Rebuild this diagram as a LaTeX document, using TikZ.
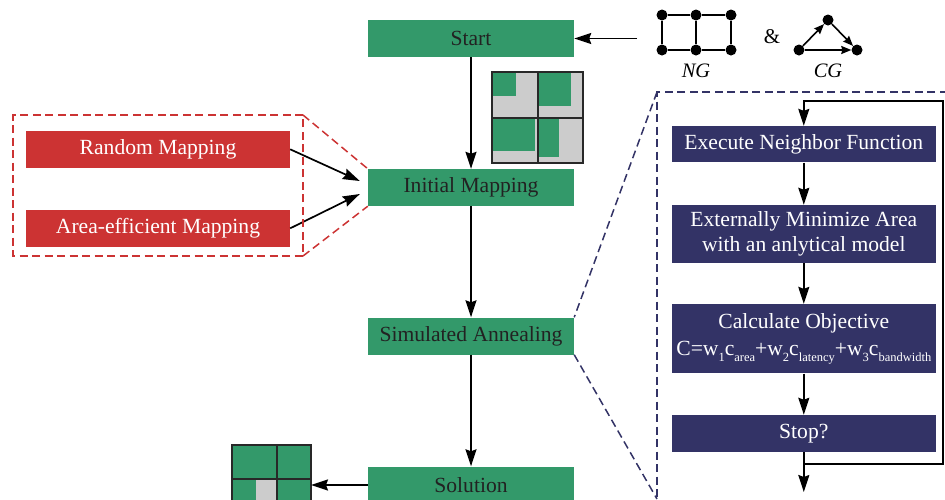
\documentclass[tikz,border=0pt]{standalone}
\usepackage{fontspec}
\setmainfont{Liberation Serif}
\usetikzlibrary{arrows.meta,calc}
\definecolor{sgreen}{RGB}{51,153,106}
\definecolor{sred}{RGB}{204,51,51}
\definecolor{snavy}{RGB}{51,51,102}
\definecolor{sgray}{RGB}{204,204,204}
\definecolor{stext}{RGB}{34,34,34}
\definecolor{sgrid}{RGB}{40,40,40}
\newcommand{\sbt}[1]{\raisebox{-0.55ex}{\fontsize{12.5}{12.5}\selectfont #1}}
\begin{document}
\begin{tikzpicture}[x=1pt,y=-1pt,
  font=\fontsize{21.6}{25.6}\selectfont,
  gbox/.style={fill=sgreen, text=stext, minimum width=206pt, minimum height=37pt, inner sep=0pt},
  rbox/.style={fill=sred, text=white, minimum width=264pt, minimum height=37pt, inner sep=0pt},
  bbox/.style={fill=snavy, text=white, minimum width=264pt, inner sep=0pt, align=center},
  arr/.style={-{Stealth[length=17pt,width=11pt,inset=2pt]}, line width=1.7pt},
  rdash/.style={draw=sred, line width=1.5pt, dash pattern=on 8pt off 4.5pt},
  bdash/.style={draw=snavy, line width=1.5pt, dash pattern=on 8pt off 4.5pt},
  dot/.style={circle, fill=black, minimum size=11pt, inner sep=0pt},
  garr/.style={-{Stealth[length=10pt,width=8pt,inset=1pt]}, line width=1.6pt},
  gridl/.style={draw=sgrid, line width=2pt}]
\useasboundingbox (0,0) rectangle (945,499);

% main flow
\node[gbox] (start) at (471,38.5) {Start};
\node[gbox] (init) at (471,187.5) {Initial Mapping};
\node[gbox] (sa) at (471,336) {Simulated Annealing};
\node[gbox] (sol) at (471,485) {Solution};

\draw[arr] (start.south) -- (init.north);
\draw[arr] (init.south) -- (sa.north);
\draw[arr] (sa.south) -- (sol.north);

% red mappings
\node[rbox] (rand) at (158,149.3) {Random Mapping};
\node[rbox] (area) at (158,228.3) {Area-efficient Mapping};
\coordinate (ia1) at ($(init.west)+(-8,-6.5)$);
\coordinate (ia2) at ($(init.west)+(-8,6.5)$);
\draw[arr] (rand.east) -- (ia1);
\draw[arr] (area.east) -- (ia2);
\coordinate (r1) at (303,115);
\coordinate (r2) at (13,115);
\coordinate (r3) at (13,256);
\coordinate (r4) at (303,256);
\draw[rdash] (r1) -- (r2) -- (r3) -- (r4) -- cycle;
\draw[rdash] (r1) -- (init.north west);
\draw[rdash] (r4) -- (init.south west);

% NG and CG
\node[dot] (n1) at (662,15) {};
\node[dot] (n2) at (696,15) {};
\node[dot] (n3) at (731,15) {};
\node[dot] (n4) at (662,50) {};
\node[dot] (n5) at (696,50) {};
\node[dot] (n6) at (731,50) {};
\draw[line width=1.6pt] (n1) -- (n2) -- (n3) -- (n6) -- (n5) -- (n4) -- (n1);
\draw[line width=1.6pt] (n2) -- (n5);
\node[font=\fontsize{20.5}{20.5}\selectfont\itshape] (ngl) at (696,71) {NG};
\node[font=\fontsize{21}{21}\selectfont] (amp) at (772,37) {\&};
\node[dot] (c1) at (799,50) {};
\node[dot] (c2) at (828,20) {};
\node[dot] (c3) at (857,50) {};
\draw[garr] (c1) -- (c2);
\draw[garr] (c2) -- (c3);
\draw[garr] (c1) -- (c3);
\node[font=\fontsize{20.5}{20.5}\selectfont\itshape] (cgl) at (828,71) {CG};
\coordinate (ngin) at (637,38.5);
\draw[arr] (ngin) -- (start.east);

% mapping grid (initial)
\fill[sgray] (492,72) rectangle (583,163);
\fill[sgreen] (492,72) rectangle (516,96);
\fill[sgreen] (538,72) rectangle (571,106);
\fill[sgreen] (492,118) rectangle (535,151);
\fill[sgreen] (538,118) rectangle (559,157);
\draw[gridl] (492,72) rectangle (583,163);
\draw[gridl] (537.5,72) -- (537.5,163);
\draw[gridl] (492,117.5) -- (583,117.5);

% solution grid
\fill[sgreen] (232,445) rectangle (311,524);
\fill[sgray] (256,479) rectangle (277,524);
\draw[gridl] (232,445) rectangle (311,524);
\draw[gridl] (277,445) -- (277,524);
\draw[gridl] (232,479) -- (311,479);
\coordinate (solgrid) at (311,485);
\draw[arr] (sol.west) -- (solgrid);

% SA detail
\node[bbox, minimum height=36.3pt] (exec) at (803.8,144.2) {Execute Neighbor Function};
\node[bbox, minimum height=57.7pt] (mini) at (803.8,233.8) {Externally Minimize Area\\with an anlytical model};
\node[bbox, minimum height=69.3pt] (calc) at (803.8,338.7) {Calculate Objective\\[2pt]C=w\sbt{1}c\sbt{area}+w\sbt{2}c\sbt{latency}+w\sbt{3}c\sbt{bandwidth}};
\node[bbox, minimum height=36.7pt] (stop) at (803.8,433.3) {Stop?};
\draw[arr] (exec.south) -- (mini.north);
\draw[arr] (mini.south) -- (calc.north);
\draw[arr] (calc.south) -- (stop.north);
\coordinate (lp1) at (942.7,464);
\coordinate (lp2) at (942.7,100.7);
\draw[arr] (stop.south) -- (stop.south |- lp1) -- (lp1) -- (lp2) -- (exec.north |- lp2) -- (exec.north);
\coordinate (endp) at (803.8,492);
\draw[arr] (stop.south |- lp1) -- (endp);

\coordinate (b1) at (960,92);
\coordinate (b2) at (657,92);
\coordinate (b3) at (657,520);
\coordinate (b4) at (657,499);
\draw[bdash] (b1) -- (b2) -- (b3);
\draw[bdash] (b2) -- (sa.north east);
\draw[bdash] (sa.south east) -- (b4);
\end{tikzpicture}
\end{document}
